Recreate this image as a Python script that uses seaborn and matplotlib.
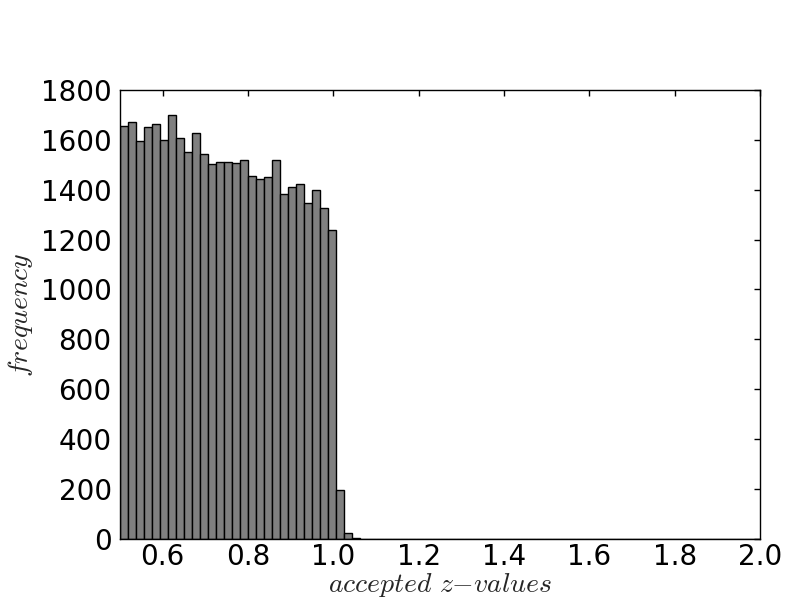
import numpy as np
import pandas as pd
import matplotlib
matplotlib.use("Agg")
import matplotlib.pyplot as plt
import seaborn as sns

# Histogram of accepted z-values: 80 bins between 0.5 and 2.0
bin_start = 0.5
bin_stop = 2.0
n_bins = 80
counts_nonzero = [1656, 1672, 1596, 1652, 1664, 1601, 1699, 1608, 1552, 1627,
                  1542, 1502, 1510, 1510, 1506, 1519, 1455, 1445, 1450, 1521,
                  1383, 1410, 1423, 1345, 1398, 1327, 1239, 195, 25, 5]
counts = counts_nonzero + [0] * (n_bins - len(counts_nonzero))

edges = np.linspace(bin_start, bin_stop, n_bins + 1)
centers = (edges[:-1] + edges[1:]) / 2
df = pd.DataFrame({"z": centers, "count": counts})

sns.set_style("white")
plt.rcParams["font.family"] = ["DejaVu Sans"]
plt.rcParams["mathtext.fontset"] = "cm"

fig, ax = plt.subplots(figsize=(8, 6), dpi=100)
fig.subplots_adjust(left=0.15, right=0.95, bottom=0.102, top=0.85)

sns.histplot(data=df, x="z", weights="count", bins=n_bins,
             binrange=(bin_start, bin_stop), ax=ax,
             color="#808080", edgecolor="black", linewidth=1.0, alpha=1.0)

ax.set_xlim(0.5, 2.0)
ax.set_ylim(0, 1800)
ax.set_xticks(np.arange(0.6, 2.01, 0.2))
ax.set_xticklabels(["0.6", "0.8", "1.0", "1.2", "1.4", "1.6", "1.8", "2.0"])
ax.set_yticks(np.arange(0, 1801, 200))

ax.tick_params(axis="both", which="major", direction="in", length=4, width=1,
               labelsize=20, top=True, right=True, colors="black")
ax.tick_params(axis="x", pad=3)
ax.tick_params(axis="y", pad=6)
for s in ax.spines.values():
    s.set_visible(True)
    s.set_color("black")
    s.set_linewidth(1.0)

ax.set_xlabel(r"$accepted\ z\mathrm{-}values$", fontsize=20, labelpad=0)
ax.set_ylabel(r"$frequency$", fontsize=20, labelpad=4)

fig.savefig("out.png", dpi=100)
